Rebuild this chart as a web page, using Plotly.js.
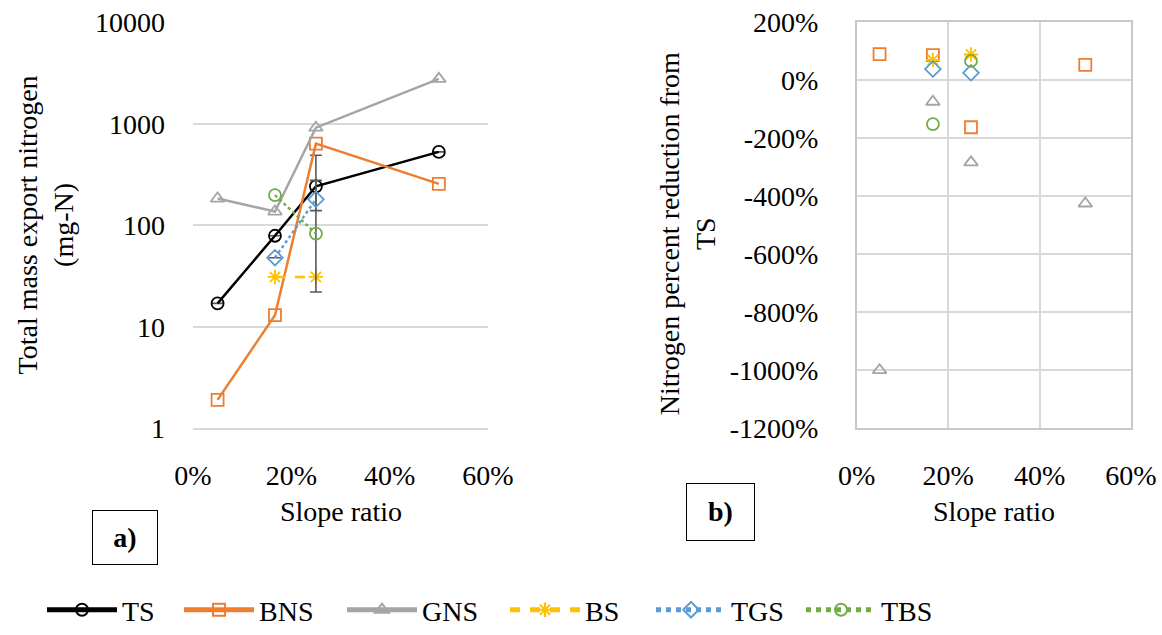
<!DOCTYPE html>
<html>
<head>
<meta charset="utf-8">
<script src="https://cdn.plot.ly/plotly-3.0.1.min.js"></script>
<style>
  html, body { margin: 0; padding: 0; background: #ffffff; }
  #wrap { position: relative; width: 1162px; height: 635px; }
  #chart { position: absolute; left: 0; top: 0; width: 1162px; height: 635px; }
  .panel-tag {
    position: absolute; z-index: 5; box-sizing: border-box;
    border: 1.2px solid #000000; background: transparent;
    font-family: 'Liberation Serif'; font-weight: bold; font-size: 28px; color: #000000;
    display: flex; align-items: center; justify-content: center;
  }
  #chart text { font-family: 'Liberation Serif' !important; }
</style>
</head>
<body>
<div id="wrap">
  <div class="panel-tag" style="left:92px; top:510px; width:66px; height:55px;">a)</div>
  <div class="panel-tag" style="left:686px; top:483px; width:69px; height:58px;">b)</div>
  <div id="chart"></div>
</div>
<script>
// Slope ratios of the test plots (1:20, 1:6, 1:4, 1:2)
const slopeRatio = [0.05, 0.1667, 0.25, 0.5];
const slopeRatioShort = [0.1667, 0.25];

// Total mass export of nitrogen (mg-N)
const massTS  = [17, 79, 243, 531];
const massBNS = [1.9, 13, 640, 257];
const massGNS = [184, 137, 920, 2790];
const massBS  = [31, 31];
const massTGS = [48, 181];
const massTBS = [199, 83];

// Error bar extents at the 1:4 slope
const errTSPlus   = [null, null, 249, null];
const errTSMinus  = [null, null, 103, null];
const errTGSPlus  = [null, 97];
const errTGSMinus = [null, 159];

// Nitrogen percent reduction from TS (%)
const redBNS = [90, 87, -162, 53];
const redGNS = [-1000, -74, -283, -425];
const redBS  = [70, 89];
const redTGS = [39, 26];
const redTBS = [-151, 67];

// Tick labels
const massTickVals  = [1, 10, 100, 1000, 10000];
const massTickText  = ['1', '10', '100', '1000', '10000'];
const slopeTickVals = [0, 0.2, 0.4, 0.6];
const slopeTickText = ['0%', '20%', '40%', '60%'];
const redTickVals   = [200, 0, -200, -400, -600, -800, -1000, -1200];
const redTickText   = ['200%', '0%', '-200%', '-400%', '-600%', '-800%', '-1000%', '-1200%'];

const FONT = 'Liberation Serif';
const W = 1162, H = 635;
const px = v => v / W;
const py = v => 1 - v / H;

const colors = {
  TS: '#000000', BNS: '#ED7D31', GNS: '#A5A5A5',
  BS: '#FFC000', TGS: '#5B9BD5', TBS: '#70AD47'
};
const errStyle = { color: '#595959', thickness: 1.6, width: 6 };

function mk(symbol, color) {
  return { symbol: symbol, size: 12, color: color, line: { color: color, width: 1.8 } };
}

const traces = [
  // a) total mass export, log scale
  { x: slopeRatio, y: massTS, name: 'TS', mode: 'lines+markers', legend: 'legend',
    line: { color: colors.TS, width: 2.5 }, marker: mk('circle-open', colors.TS),
    error_y: { type: 'data', symmetric: false, array: errTSPlus, arrayminus: errTSMinus, ...errStyle },
    xaxis: 'x', yaxis: 'y' },
  { x: slopeRatio, y: massBNS, name: 'BNS', mode: 'lines+markers', legend: 'legend2',
    line: { color: colors.BNS, width: 2.5 }, marker: mk('square-open', colors.BNS),
    xaxis: 'x', yaxis: 'y' },
  { x: slopeRatio, y: massGNS, name: 'GNS', mode: 'lines+markers', legend: 'legend3',
    line: { color: colors.GNS, width: 2.5 }, marker: mk('triangle-up-open', colors.GNS),
    xaxis: 'x', yaxis: 'y' },
  { x: slopeRatioShort, y: massBS, name: 'BS', mode: 'lines+markers', legend: 'legend4',
    line: { color: colors.BS, width: 2.5, dash: '10px,10px' }, marker: mk('asterisk-open', colors.BS),
    xaxis: 'x', yaxis: 'y' },
  { x: slopeRatioShort, y: massTGS, name: 'TGS', mode: 'lines+markers', legend: 'legend5',
    line: { color: colors.TGS, width: 2.5, dash: 'dot' }, marker: mk('diamond-open', colors.TGS),
    error_y: { type: 'data', symmetric: false, array: errTGSPlus, arrayminus: errTGSMinus, ...errStyle },
    xaxis: 'x', yaxis: 'y' },
  { x: slopeRatioShort, y: massTBS, name: 'TBS', mode: 'lines+markers', legend: 'legend6',
    line: { color: colors.TBS, width: 2.5, dash: 'dot' }, marker: mk('circle-open', colors.TBS),
    xaxis: 'x', yaxis: 'y' },

  // b) percent reduction from TS
  { x: slopeRatio, y: redBNS, name: 'BNS', mode: 'markers', showlegend: false,
    marker: mk('square-open', colors.BNS), xaxis: 'x2', yaxis: 'y2' },
  { x: slopeRatio, y: redGNS, name: 'GNS', mode: 'markers', showlegend: false,
    marker: mk('triangle-up-open', colors.GNS), xaxis: 'x2', yaxis: 'y2' },
  { x: slopeRatioShort, y: redBS, name: 'BS', mode: 'markers', showlegend: false,
    marker: mk('asterisk-open', colors.BS), xaxis: 'x2', yaxis: 'y2' },
  { x: slopeRatioShort, y: redTGS, name: 'TGS', mode: 'markers', showlegend: false,
    marker: mk('diamond-open', colors.TGS), xaxis: 'x2', yaxis: 'y2' },
  { x: slopeRatioShort, y: redTBS, name: 'TBS', mode: 'markers', showlegend: false,
    marker: mk('circle-open', colors.TBS), xaxis: 'x2', yaxis: 'y2' }
];

const tickFont = { family: FONT, size: 28, color: '#000000' };
const titleFont = { family: FONT, size: 28, color: '#000000' };

// one legend per series so each entry sits where it belongs along the bottom row
const legendStarts = [47, 184, 347, 510, 656, 806];
function legendAt(xpx) {
  return {
    orientation: 'h', x: px(xpx - 5), xanchor: 'left', y: py(620), yanchor: 'middle',
    font: { family: FONT, size: 28, color: '#000000' }, itemwidth: 70,
    bgcolor: 'rgba(0,0,0,0)', borderwidth: 0, itemsizing: 'constant'
  };
}

const plotTop = 23, plotBottom = 435;
const gridColor = '#d9d9d9';

const layout = {
  width: W, height: H,
  margin: { l: 0, r: 0, t: 0, b: 0 },
  paper_bgcolor: 'rgba(0,0,0,0)', plot_bgcolor: '#ffffff',
  showlegend: true,
  legend: legendAt(legendStarts[0]),
  legend2: legendAt(legendStarts[1]),
  legend3: legendAt(legendStarts[2]),
  legend4: legendAt(legendStarts[3]),
  legend5: legendAt(legendStarts[4]),
  legend6: legendAt(legendStarts[5]),
  xaxis: {
    domain: [px(193), px(488)], range: [0, 0.6], anchor: 'y',
    tickvals: slopeTickVals, ticktext: slopeTickText, tickfont: tickFont,
    showgrid: false, zeroline: false,
    showline: true, linecolor: gridColor, linewidth: 1.5,
    ticks: '', ticklabelstandoff: 22
  },
  yaxis: {
    domain: [py(plotBottom), py(plotTop)], type: 'log', range: [0, 4], anchor: 'x',
    tickvals: massTickVals, ticktext: massTickText, tickfont: tickFont,
    showgrid: true, gridcolor: gridColor, gridwidth: 1.5,
    zeroline: false, showline: false, ticks: '', ticklabelstandoff: 27
  },
  xaxis2: {
    domain: [px(856.7), px(1131)], range: [0, 0.6], anchor: 'y2',
    tickvals: slopeTickVals, ticktext: slopeTickText, tickfont: tickFont,
    showgrid: true, gridcolor: gridColor, gridwidth: 1.5,
    zeroline: false, showline: true, mirror: true, linecolor: '#c8c8c8', linewidth: 1.5,
    ticks: '', ticklabelstandoff: 22
  },
  yaxis2: {
    domain: [py(plotBottom), py(22.7)], range: [-1200, 200], anchor: 'x2',
    tickvals: redTickVals, ticktext: redTickText, tickfont: tickFont,
    showgrid: true, gridcolor: gridColor, gridwidth: 1.5,
    zeroline: false, showline: true, mirror: true, linecolor: '#c8c8c8', linewidth: 1.5,
    ticks: '', ticklabelstandoff: 31
  },
  annotations: [
    { text: 'Total mass export nitrogen<br>(mg-N)', textangle: -90, showarrow: false,
      xref: 'paper', yref: 'paper', x: px(45), y: py(229), xanchor: 'center', yanchor: 'middle',
      font: titleFont },
    { text: 'Slope ratio', showarrow: false, xref: 'paper', yref: 'paper',
      x: px(340.5), y: py(520), xanchor: 'center', yanchor: 'middle', font: titleFont },
    { text: 'Nitrogen percent reduction from<br>TS', textangle: -90, showarrow: false,
      xref: 'paper', yref: 'paper', x: px(687), y: py(237), xanchor: 'center', yanchor: 'middle',
      font: titleFont },
    { text: 'Slope ratio', showarrow: false, xref: 'paper', yref: 'paper',
      x: px(994), y: py(520), xanchor: 'center', yanchor: 'middle', font: titleFont }
  ]
};

Plotly.newPlot('chart', traces, layout, { displayModeBar: false });
</script>
</body>
</html>
